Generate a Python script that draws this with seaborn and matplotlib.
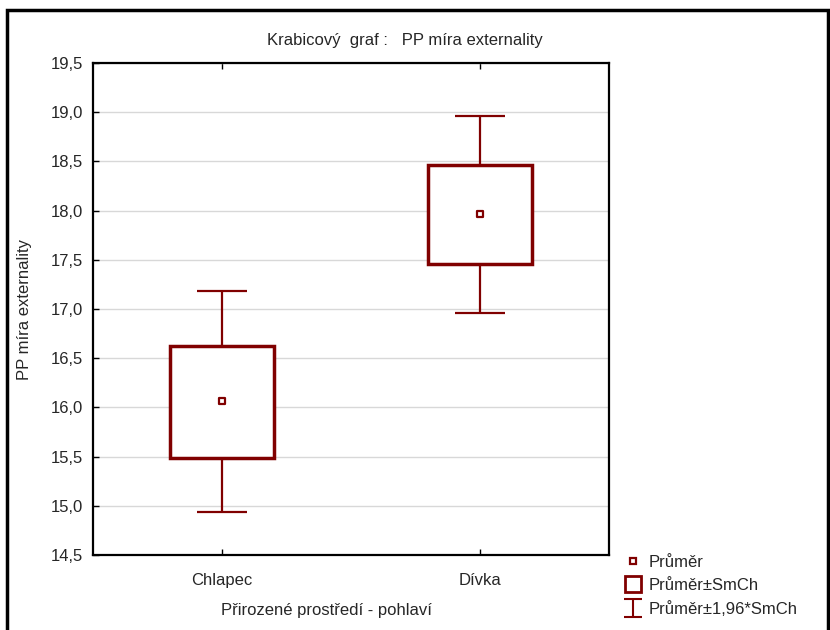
import numpy as np
import pandas as pd
import seaborn as sns
import matplotlib.pyplot as plt
from matplotlib.lines import Line2D
from matplotlib.path import Path
from matplotlib.patches import Rectangle

# hodnoty
skupiny = ['Chlapec', 'Dívka']
prumer = [16.07, 17.97]
box_dole = [15.49, 17.46]      # průměr - SmCh
box_nahore = [16.62, 18.46]    # průměr + SmCh
vous_dole = [14.94, 16.96]     # průměr - 1,96*SmCh
vous_nahore = [17.18, 18.96]   # průměr + 1,96*SmCh
y_ticks = np.arange(14.5, 19.51, 0.5)

barva = '#800000'
fs = 12

df = pd.DataFrame({'skupina': skupiny, 'prumer': prumer,
                   'dole': box_dole, 'nahore': box_nahore,
                   'vdole': vous_dole, 'vnahore': vous_nahore})

sns.set_style('white')
plt.rcParams['font.family'] = ['Liberation Sans', 'DejaVu Sans']
plt.rcParams['font.size'] = fs

fig = plt.figure(figsize=(8.3, 6.3), dpi=100)
ax = fig.add_axes([93 / 830, 1 - 555 / 630, 516 / 830, 492 / 630])

x = np.arange(len(skupiny))

# mřížka
ax.set_axisbelow(True)
ax.grid(axis='y', color='#d8d8d8', lw=1)

# vousy: od okraje krabice k 1,96*SmCh
ax.vlines(x, df['nahore'], df['vnahore'], color=barva, lw=1.6, zorder=2)
ax.vlines(x, df['vdole'], df['dole'], color=barva, lw=1.6, zorder=2)
ax.hlines(df['vnahore'], x - 0.095, x + 0.095, color=barva, lw=1.6, zorder=2)
ax.hlines(df['vdole'], x - 0.095, x + 0.095, color=barva, lw=1.6, zorder=2)

# krabice: průměr ± SmCh
ax.bar(x, df['nahore'] - df['dole'], bottom=df['dole'], width=0.4,
       facecolor='white', edgecolor=barva, linewidth=2.5, zorder=3)

# průměr
sns.scatterplot(x=x, y=df['prumer'], marker='s', s=22, color='white',
                edgecolor=barva, linewidth=1.6, ax=ax, zorder=4, legend=False)

ax.set_xlim(-0.5, 1.5)
ax.set_ylim(14.5, 19.5)
ax.set_xticks(x)
ax.set_xticklabels(skupiny)
ax.set_yticks(y_ticks)
ax.set_yticklabels([f'{v:.1f}'.replace('.', ',') for v in y_ticks])
ax.tick_params(direction='in', length=4, width=1, color='black',
               top=True, bottom=True, left=True, right=False, labelsize=fs)
ax.tick_params(axis='x', pad=13)
ax.tick_params(axis='y', pad=7)
for s in ax.spines.values():
    s.set_color('black')
    s.set_linewidth(1.6)

ax.set_xlabel('Přirozené prostředí - pohlaví', fontsize=fs)
ax.xaxis.set_label_coords(0.453, -0.098)
ax.set_ylabel('PP míra externality', fontsize=fs)
ax.yaxis.set_label_coords(-0.118, 0.5)

fig.text(405 / 830, 1 - 40 / 630, 'Krabicový  graf :   PP míra externality',
         ha='center', va='center', fontsize=fs)

# legenda
ibeam = Path([(-1, 1), (1, 1), (0, 1), (0, -1), (-1, -1), (1, -1)],
             [Path.MOVETO, Path.LINETO, Path.MOVETO, Path.LINETO,
              Path.MOVETO, Path.LINETO])
handles = [
    Line2D([], [], ls='none', marker='s', ms=5, mfc='white', mec=barva, mew=1.6),
    Line2D([], [], ls='none', marker='s', ms=12, mfc='white', mec=barva, mew=2),
    Line2D([], [], ls='none', marker=ibeam, ms=13, mec=barva, mew=1.5),
]
fig.legend(handles, ['Průměr', 'Průměr±SmCh', 'Průměr±1,96*SmCh'],
           loc='upper left', bbox_to_anchor=(614 / 830, 1 - 548 / 630),
           frameon=False, fontsize=fs, handletextpad=0.2,
           labelspacing=0.5, handlelength=1.5, borderaxespad=0)

# rám okna
fig.patches.append(Rectangle((7 / 830, -0.1), 821 / 830, 1.1 - 10 / 630,
                             transform=fig.transFigure, fill=False,
                             edgecolor='black', linewidth=2.5))

fig.savefig('out.png', dpi=100)
